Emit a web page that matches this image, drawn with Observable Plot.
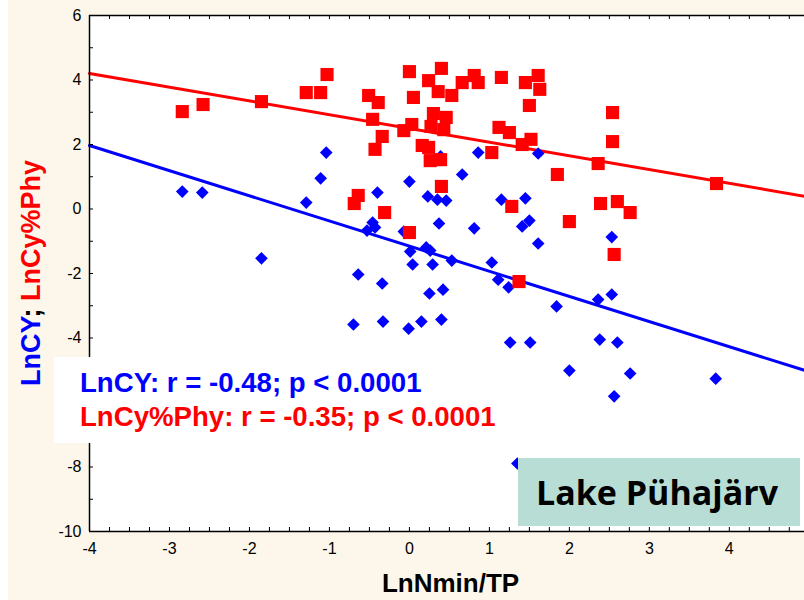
<!DOCTYPE html>
<html><head><meta charset="utf-8">
<script src="https://cdn.jsdelivr.net/npm/d3@7"></script>
<script src="https://cdn.jsdelivr.net/npm/@observablehq/plot@0.6"></script>
<style>
body{margin:0;background:#fff;}
#chart{width:804px;height:600px;}
</style></head><body><div id="chart"></div>
<script>
// LnCY (blue diamonds)
const blueX = [-2.84,-2.59,-1.04,-1.11,-1.29,-0.40,0.00,0.23,0.35,0.46,0.37,-0.46,-0.53,-0.43,-0.07,0.86,1.61,0.39,0.66,1.15,1.45,0.81,1.41,1.50,1.61,2.53,0.01,0.21,0.26,0.04,0.29,0.53,1.03,1.11,1.24,0.25,0.42,2.36,2.53,1.84,-0.01,0.15,0.40,1.26,1.51,2.38,2.60,2.00,2.76,2.56,3.83,1.35,-1.85,-0.64,-0.34,-0.70,-0.33];
const blueY = [0.54,0.51,1.75,0.95,0.20,0.51,0.85,0.39,0.29,0.26,-0.45,-0.42,-0.67,-0.57,-0.70,1.75,1.72,1.63,1.07,0.29,0.33,-0.60,-0.54,-0.36,-1.07,-0.87,-1.32,-1.19,-1.29,-1.72,-1.72,-1.60,-1.66,-2.19,-2.43,-2.62,-2.50,-2.81,-2.65,-3.02,-3.71,-3.49,-3.43,-4.14,-4.14,-4.05,-4.14,-5.01,-5.10,-5.81,-5.26,-7.89,-1.53,-2.03,-2.31,-3.58,-3.49];
// LnCy%Phy (red squares)
const redX = [-2.84,-2.58,-1.85,-1.29,-1.11,-1.03,-0.51,-0.39,-0.46,-0.34,-0.43,-0.64,-0.69,-0.31,0.00,0.00,0.40,0.24,0.05,0.36,0.53,0.66,0.81,0.86,1.15,1.45,1.61,1.63,1.50,-0.07,0.03,0.30,0.46,0.27,0.43,0.16,0.24,0.26,0.39,0.40,1.03,1.12,1.25,1.41,1.52,1.85,2.36,2.54,2.54,3.84,2.39,2.60,2.76,2.00,1.28,2.56,1.37];
const redY = [3.02,3.24,3.33,3.61,3.61,4.17,3.52,3.30,2.78,2.25,1.85,0.42,0.17,-0.11,-0.73,4.26,4.36,3.98,3.46,3.64,3.52,3.92,4.14,3.92,4.08,3.92,4.14,3.71,3.21,2.43,2.62,2.96,2.84,2.56,2.46,1.97,1.91,1.50,1.53,0.70,1.75,2.53,2.37,2.00,2.16,1.07,1.41,2.99,2.09,0.79,0.17,0.23,-0.11,-0.39,0.08,-1.41,-2.25];
// regression fits
const fitSeries = ["LnCY", "LnCy%Phy"];
const fitColor = ["#0000ff", "#ff0000"];
const fitIntercept = [-1.15, 2.50];
const fitSlope = [-0.78, -0.426];
// axes
const xDomain = [-4, 4.94];
const yDomain = [-10, 6];
const xTickLabels = [-4,-3,-2,-1,0,1,2,3,4];
const yTickLabels = [-10,-8,-6,-4,-2,0,2,4,6];
const statLines = ["LnCY: r = -0.48; p < 0.0001", "LnCy%Phy: r = -0.35; p < 0.0001"];
const lakeName = "Lake Pühajärv";

const blue = blueX.map((x,i)=>({x, y: blueY[i]}));
const red = redX.map((x,i)=>({x, y: redY[i]}));
const fitData = fitSeries.flatMap((s,i)=>xDomain.map(x=>({series:s, x, y: fitIntercept[i] + fitSlope[i]*x})));
const xMinor = d3.range(-4, 4.95, 0.25);
const yMinor = d3.range(-10, 6.01, 1);

const W=804, H=600, mL=89, mR=0, mT=15, mB=69;
const innerW = W-mL-mR, innerH = H-mT-mB;
const axisColor = "#000";

const plot = Plot.plot({
  width: W, height: H,
  marginLeft: mL, marginRight: mR, marginTop: mT, marginBottom: mB,
  style: {background: "#fcf7ea", fontFamily: "'Liberation Sans', Arial, sans-serif", fontSize: "16px", overflow: "visible", color: "#000"},
  x: {domain: xDomain, axis: null},
  y: {domain: yDomain, axis: null},
  marks: [
    Plot.frame({fill: "white", stroke: null}),
    Plot.line(fitData, {x: "x", y: "y", z: "series", stroke: d => fitColor[fitSeries.indexOf(d.series)], strokeWidth: 3}),
    Plot.dot(blue, {x: "x", y: "y", symbol: "diamond2", r: 5.7, fill: "#0000ff", stroke: null}),
    Plot.dot(red, {x: "x", y: "y", symbol: "square", r: 7.4, fill: "#ff0000", stroke: null}),
    // frame lines
    Plot.ruleX([xDomain[0]], {stroke: axisColor, strokeWidth: 1.5}),
    Plot.ruleY([yDomain[0], yDomain[1]], {stroke: axisColor, strokeWidth: 1.5}),
    // inward ticks
    Plot.tickX(xMinor, {x: d=>d, insetTop: innerH - 4, stroke: axisColor}),
    Plot.tickX(xMinor, {x: d=>d, insetBottom: innerH - 4, stroke: axisColor}),
    Plot.tickY(yMinor, {y: d=>d, insetRight: innerW - 4, stroke: axisColor}),
    // tick labels
    Plot.axisX({ticks: xTickLabels, tickFormat: d=>String(d), tickSize: 0, tickPadding: 11, fontSize: 16, label: null, ariaLabel: "xlabels"}),
    Plot.axisY({ticks: yTickLabels, tickFormat: d=>String(d), tickSize: 0, tickPadding: 8, fontSize: 16, label: null, ariaLabel: "ylabels"})
  ]
});

const svg = d3.select(plot);
svg.insert("rect", ":first-child").attr("x",0).attr("y",0).attr("width",8).attr("height",H).attr("fill","#fff");
svg.selectAll("g[aria-label*='tick label'], g[aria-label='xlabels'], g[aria-label='ylabels']")
  .attr("font-size", 16).style("font-size", "16px");
svg.selectAll("g[aria-label*='tick label'] text, g[aria-label='xlabels'] text, g[aria-label='ylabels'] text")
  .attr("font-size", 16).style("font-size", "16px");

// axis titles
svg.append("text").attr("x", mL + innerW/2 + 4).attr("y", 592).attr("text-anchor","middle")
  .attr("font-size", 26).attr("font-weight","bold").attr("fill","#000").text("LnNmin/TP");
const yt = svg.append("text").attr("transform", `translate(40,${mT + innerH/2}) rotate(-90)`)
  .attr("text-anchor","middle").attr("font-size", 27).attr("font-weight","bold");
yt.append("tspan").attr("fill","#0000ff").text("LnCY");
yt.append("tspan").attr("fill","#000").text("; ");
yt.append("tspan").attr("fill","#ff0000").text("LnCy%Phy");

// stats box
svg.append("rect").attr("x",54).attr("y",357).attr("width",452).attr("height",86).attr("fill","#fff");
svg.append("text").attr("x",80).attr("y",392).attr("text-anchor","start").attr("font-size",27.6).attr("font-weight","bold").attr("fill","#0000ff").text(statLines[0]);
svg.append("text").attr("x",80).attr("y",426).attr("text-anchor","start").attr("font-size",27.6).attr("font-weight","bold").attr("fill","#ff0000").text(statLines[1]);

// lake label box
svg.append("rect").attr("x",518).attr("y",458).attr("width",282).attr("height",68).attr("fill","#b7ddd5");
svg.append("text").attr("x",657).attr("y",505).attr("text-anchor","middle").attr("font-size",34).attr("font-weight","bold")
  .attr("font-family","'Open Sans', sans-serif").attr("fill","#000").text(lakeName);

document.getElementById("chart").appendChild(plot);
</script>
</body></html>
